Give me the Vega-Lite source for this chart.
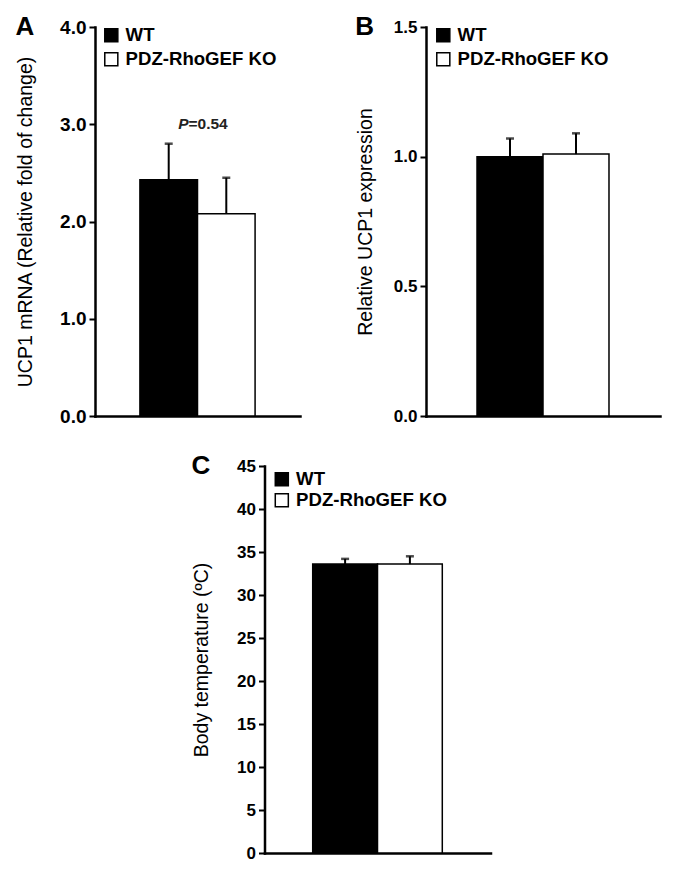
{
  "$schema": "https://vega.github.io/schema/vega-lite/v6.json",
  "padding": {"left": 15, "top": 14, "right": 5, "bottom": 5},
  "background": "white",
  "config": {
    "font": "Liberation Sans",
    "view": {"stroke": null},
    "axis": {
      "domainColor": "black", "domainWidth": 2.5, "domainCap": "square",
      "tickColor": "black", "tickWidth": 2, "tickSize": 6,
      "labelColor": "black", "labelFont": "Liberation Sans", "labelFontWeight": "bold", "labelFontSize": 19, "labelPadding": 3,
      "titleFont": "Liberation Sans", "titleFontWeight": "normal", "titleFontSize": 19.5, "titleColor": "black",
      "grid": false
    },
    "legend": {
      "orient": "none", "padding": 0, "title": null,
      "symbolType": "square", "symbolSize": 170, "symbolStrokeColor": "black", "symbolStrokeWidth": 1.5, "symbolOpacity": 1,
      "labelFont": "Liberation Sans", "labelFontSize": 18.6, "labelFontWeight": "bold", "labelColor": "black", "labelOffset": 5, "rowPadding": 4
    },
    "title": {"fontSize": 26, "fontWeight": "bold", "anchor": "start", "color": "black", "font": "Liberation Sans", "frame": "bounds"}
  },
  "resolve": {"scale": {"fill": "independent"}, "legend": {"fill": "independent"}},
  "datasets": {
    "a": [
      {"group": "WT", "mean": 2.43, "upper": 2.80},
      {"group": "PDZ-RhoGEF KO", "mean": 2.08, "upper": 2.45}
    ],
    "b": [
      {"group": "WT", "mean": 1.0, "upper": 1.07},
      {"group": "PDZ-RhoGEF KO", "mean": 1.01, "upper": 1.09}
    ],
    "c": [
      {"group": "WT", "mean": 33.6, "upper": 34.2},
      {"group": "PDZ-RhoGEF KO", "mean": 33.6, "upper": 34.5}
    ]
  },
  "spacing": 27,
  "center": true,
  "vconcat": [
    {
      "spacing": 55,
      "resolve": {"scale": {"fill": "independent"}, "legend": {"fill": "independent"}},
      "hconcat": [
        {
          "title": {"text": "A", "dy": 26},
          "width": 205, "height": 389,
          "data": {"name": "a"},
          "encoding": {
            "x": {"field": "group", "type": "nominal", "sort": ["WT", "PDZ-RhoGEF KO"],
                  "scale": {"paddingInner": 0, "paddingOuter": 0.78},
                  "axis": {"title": null, "labels": false, "ticks": false}}
          },
          "layer": [
            {
              "mark": {"type": "bar", "stroke": "black", "strokeWidth": 1.5},
              "encoding": {
                "y": {"field": "mean", "type": "quantitative", "scale": {"domain": [0, 4], "nice": false},
                      "axis": {"values": [0, 1, 2, 3, 4], "format": ".1f", "title": "UCP1 mRNA (Relative fold of change)", "titlePadding": 24}},
                "fill": {"field": "group", "type": "nominal",
                         "scale": {"domain": ["WT", "PDZ-RhoGEF KO"], "range": ["black", "white"]},
                         "legend": {"legendX": 7, "legendY": -1}}
              }
            },
            {
              "mark": {"type": "rule", "strokeWidth": 2, "color": "black"},
              "encoding": {"y": {"field": "mean", "type": "quantitative"}, "y2": {"field": "upper"}}
            },
            {
              "mark": {"type": "tick", "color": "black", "thickness": 2.5, "size": 8},
              "encoding": {"y": {"field": "upper", "type": "quantitative"}}
            },
            {
              "transform": [{"filter": "datum.group === 'WT'"}],
              "mark": {"type": "text", "text": "P", "fontStyle": "italic", "fontWeight": "bold", "fontSize": 15.5, "align": "right", "baseline": "middle", "dx": -9, "color": "#222"},
              "encoding": {"x": {"field": "group", "type": "nominal", "bandPosition": 1}, "y": {"datum": 3}}
            },
            {
              "transform": [{"filter": "datum.group === 'WT'"}],
              "mark": {"type": "text", "text": "=0.54", "fontWeight": "bold", "fontSize": 15.5, "align": "left", "baseline": "middle", "dx": -9, "color": "#222"},
              "encoding": {"x": {"field": "group", "type": "nominal", "bandPosition": 1}, "y": {"datum": 3}}
            }
          ]
        },
        {
          "title": {"text": "B", "dy": 26},
          "width": 234, "height": 389,
          "data": {"name": "b"},
          "encoding": {
            "x": {"field": "group", "type": "nominal", "sort": ["WT", "PDZ-RhoGEF KO"],
                  "scale": {"paddingInner": 0, "paddingOuter": 0.773},
                  "axis": {"title": null, "labels": false, "ticks": false}}
          },
          "layer": [
            {
              "mark": {"type": "bar", "stroke": "black", "strokeWidth": 1.5},
              "encoding": {
                "y": {"field": "mean", "type": "quantitative", "scale": {"domain": [0, 1.5], "nice": false},
                      "axis": {"values": [0, 0.5, 1, 1.5], "format": ".1f", "labelFontSize": 17, "title": "Relative UCP1 expression", "titlePadding": 18}},
                "fill": {"field": "group", "type": "nominal",
                         "scale": {"domain": ["WT", "PDZ-RhoGEF KO"], "range": ["black", "white"]},
                         "legend": {"legendX": 8, "legendY": -1}}
              }
            },
            {
              "mark": {"type": "rule", "strokeWidth": 2, "color": "black"},
              "encoding": {"y": {"field": "mean", "type": "quantitative"}, "y2": {"field": "upper"}}
            },
            {
              "mark": {"type": "tick", "color": "black", "thickness": 2.5, "size": 8},
              "encoding": {"y": {"field": "upper", "type": "quantitative"}}
            }
          ]
        }
      ]
    },
    {
      "title": {"text": "C", "dy": 26},
      "width": 226, "height": 387,
      "data": {"name": "c"},
      "encoding": {
        "x": {"field": "group", "type": "nominal", "sort": ["WT", "PDZ-RhoGEF KO"],
              "scale": {"paddingInner": 0, "paddingOuter": 0.744},
              "axis": {"title": null, "labels": false, "ticks": false}}
      },
      "layer": [
        {
          "mark": {"type": "bar", "stroke": "black", "strokeWidth": 1.5},
          "encoding": {
            "y": {"field": "mean", "type": "quantitative", "scale": {"domain": [0, 45], "nice": false},
                  "axis": {"values": [0, 5, 10, 15, 20, 25, 30, 35, 40, 45], "format": "d", "labelFontSize": 17, "title": "Body temperature (ºC)", "titlePadding": 25}},
            "fill": {"field": "group", "type": "nominal",
                     "scale": {"domain": ["WT", "PDZ-RhoGEF KO"], "range": ["black", "white"]},
                     "legend": {"legendX": 8, "legendY": 4, "rowPadding": 1}}
          }
        },
        {
          "mark": {"type": "rule", "strokeWidth": 2, "color": "black"},
          "encoding": {"y": {"field": "mean", "type": "quantitative"}, "y2": {"field": "upper"}}
        },
        {
          "mark": {"type": "tick", "color": "black", "thickness": 2.5, "size": 8},
          "encoding": {"y": {"field": "upper", "type": "quantitative"}}
        }
      ]
    }
  ]
}
